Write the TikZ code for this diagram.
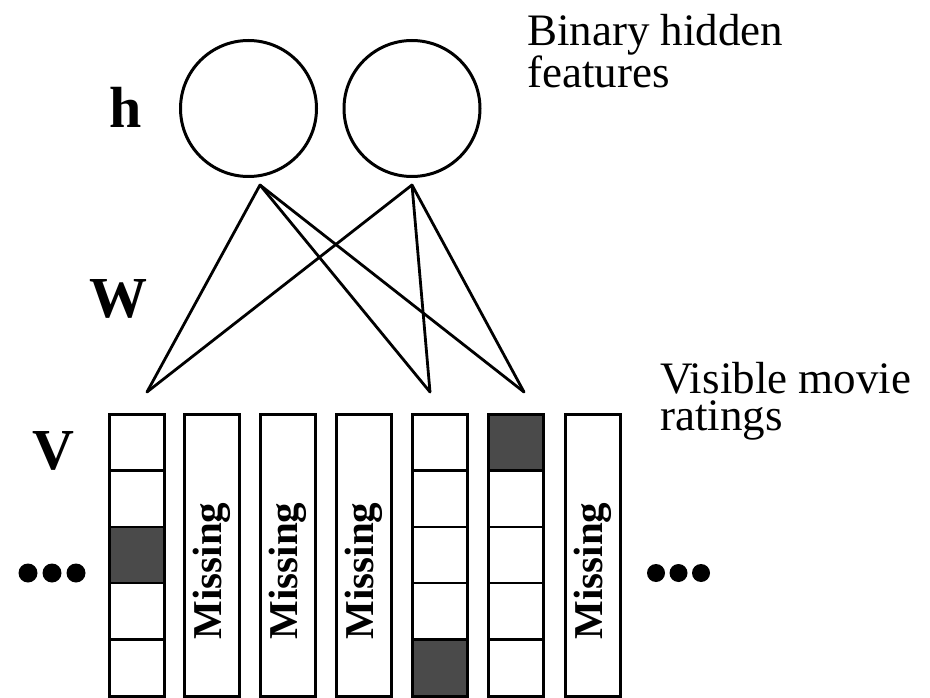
\documentclass[tikz,border=0pt]{standalone}
\usepackage{fontspec}
\setmainfont{Liberation Serif}
\definecolor{cellgray}{RGB}{74,74,74}
\begin{document}
\begin{tikzpicture}[x=1pt,y=-1pt,
  unit/.style={draw,line width=3pt,circle,minimum size=136pt,inner sep=0pt},
  wire/.style={line width=2.8pt,line cap=round,line join=round},
  colbox/.style={draw,line width=3pt,rectangle,minimum width=55pt,minimum height=282pt,inner sep=0pt},
  celldiv/.style={line width=2.4pt},
  darkcell/.style={fill=cellgray},
  symlabel/.style={font=\fontsize{58}{58}\selectfont\bfseries,inner sep=0pt,anchor=base west},
  caption/.style={font=\fontsize{45}{37}\selectfont,inner sep=0pt,anchor=base west,align=left},
  missing/.style={font=\fontsize{41}{41}\selectfont\bfseries,rotate=90,inner sep=0pt},
  bigdot/.style={circle,fill=black,minimum size=19pt,inner sep=0pt}]
\useasboundingbox (0,0) rectangle (930,698);
\clip (0,0) rectangle (930,698);

% hidden units
\node[unit] (hA) at (248.5,108.5) {};
\node[unit] (hB) at (412,108.5) {};

% wire end points below the hidden units and above the rated columns
\coordinate (hA-out) at (260,185);
\coordinate (hB-out) at (412,185);
\coordinate (v1-in) at (147,392);
\coordinate (v5-in) at (430,392);
\coordinate (v6-in) at (524,392);

\foreach \s in {hA-out,hB-out}
  \foreach \t in {v1-in,v5-in,v6-in}
    \draw[wire] (\s) -- (\t);

% shaded rating cells
\fill[darkcell] (109.5,526.8) rectangle (164.5,583.2);
\fill[darkcell] (412.5,639.6) rectangle (467.5,696);
\fill[darkcell] (488.5,414) rectangle (543.5,470.4);

% cell dividers in the rated columns
\foreach \x in {137,440,516}
  \foreach \y in {470.4,526.8,583.2,639.6}
    \draw[celldiv] (\x-27.5,\y) -- (\x+27.5,\y);

% visible columns
\foreach \x [count=\i] in {137,212,287.5,363.5,440,516,593}
  \node[colbox] (col\i) at (\x,555) {};

% missing entries
\foreach \i in {2,3,4,7}
  \node[missing] (miss\i) at ([yshift=-16pt]col\i.center) {Missing};

% symbols
\node[symlabel] (lh) at (109,128) {h};
\node[symlabel] (lW) at (89,317) {W};
\node[symlabel] (lV) at (32,469) {V};

% captions (anchored on the baseline of their last line)
\node[caption] (cap1) at (527,88) {Binary hidden\\features};
\node[caption] (cap2) at (660,430) {Visible movie\\ratings};

% ellipses on both sides
\foreach \x [count=\i] in {28,52,76}
  \node[bigdot] (ldot\i) at (\x,573) {};
\foreach \x [count=\i] in {656,678.5,701}
  \node[bigdot,minimum size=18pt] (rdot\i) at (\x,573) {};
\end{tikzpicture}
\end{document}
